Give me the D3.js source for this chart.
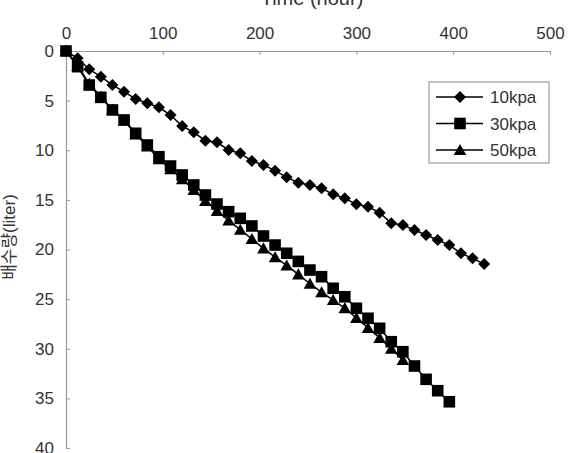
<!DOCTYPE html>
<html>
<head>
<meta charset="utf-8">
<script src="https://cdn.jsdelivr.net/npm/d3@7"></script>
<style>
  body { margin: 0; background: #fff; }
  text { font-family: "Liberation Sans", "Noto Sans CJK KR", sans-serif; fill: #333; }
</style>
</head>
<body>
<div id="chart"></div>
<script>
// series (time in hours, drained volume in liter)
var time10 = [0,12,24,36,48,60,72,84,96,108,120,132,144,156,168,180,192,204,216,228,240,252,264,276,288,300,312,324,336,348,360,372,384,396,408,420,432];
var v10 = [0,0.74,1.84,2.59,3.43,4.10,4.84,5.27,5.67,6.45,7.56,8.19,9.04,9.20,9.97,10.31,11.08,11.49,12.06,12.73,13.27,13.50,13.83,14.44,14.84,15.45,15.69,16.29,17.36,17.53,18.04,18.54,19.04,19.55,20.38,20.89,21.46];

var time30 = [0,12,24,36,48,60,72,84,96,108,120,132,144,156,168,180,192,204,216,228,240,252,264,276,288,300,312,324,336,348,360,372,384,396];
var v30 = [0,1.58,3.43,4.67,5.94,6.95,8.29,9.47,10.65,11.59,12.49,13.5,14.51,15.42,16.19,16.86,17.63,18.64,19.55,20.38,21.2,22.07,22.74,23.91,24.76,25.92,26.93,27.94,29.29,30.3,31.74,33.08,34.23,35.34];

var time50 = [0,12,24,36,48,60,72,84,96,108,120,132,144,156,168,180,192,204,216,228,240,252,264,276,288,300,312,324,336,348];
var v50 = [0,1.5,3.3,4.6,5.9,7.0,8.4,9.6,10.9,11.9,12.9,14.0,15.1,16.1,17.08,18.0,18.94,19.88,20.78,21.6,22.5,23.45,24.3,25.09,25.9,26.9,27.9,28.9,30.0,31.13];

var seriesNames = ["10kpa", "30kpa", "50kpa"];
var xTicks = [0, 100, 200, 300, 400, 500];
var yTicks = [0, 5, 10, 15, 20, 25, 30, 35, 40];

var width = 571, height = 453;
var margin = {top: 51, right: 21, bottom: 5, left: 66};

var svg = d3.select("#chart")
    .append("svg")
    .attr("width", width)
    .attr("height", height);

var x = d3.scaleLinear()
    .domain([0, 500])
    .range([margin.left, width - margin.right]);

var y = d3.scaleLinear()
    .domain([0, 40])
    .range([margin.top, height - margin.bottom]);

// axes: x on top, y reversed (0 at top)
var xAxis = svg.append("g")
    .attr("transform", "translate(0," + margin.top + ")")
    .call(d3.axisTop(x).tickValues(xTicks).tickSizeInner(-4).tickSizeOuter(0).tickPadding(12));

var yAxis = svg.append("g")
    .attr("transform", "translate(" + margin.left + ",0)")
    .call(d3.axisLeft(y).tickValues(yTicks).tickSizeInner(-4).tickSizeOuter(0).tickPadding(12));

[xAxis, yAxis].forEach(function(g) {
    g.select(".domain").attr("stroke", "#999").attr("stroke-width", 1.2);
    g.selectAll(".tick line").attr("stroke", "#999");
    g.selectAll(".tick text")
        .style("font-size", "17px")
        .attr("fill", "#333");
});

svg.append("text")
    .attr("x", 312)
    .attr("y", 5)
    .attr("text-anchor", "middle")
    .style("font-size", "20px")
    .text("Time (hour)");

svg.append("text")
    .attr("transform", "translate(15,237) rotate(-90)")
    .attr("text-anchor", "middle")
    .style("font-size", "17px")
    .text("배수량(liter)");

// marker shapes
function marker(type, s) {
    if (type === "diamond") return "M0," + (-s) + "L" + s + ",0L0," + s + "L" + (-s) + ",0Z";
    if (type === "square") return "M" + (-s) + "," + (-s) + "h" + (2 * s) + "v" + (2 * s) + "h" + (-2 * s) + "Z";
    return "M0," + (-s) + "L" + (s * 1.05) + "," + (s * 0.85) + "L" + (-s * 1.05) + "," + (s * 0.85) + "Z";
}

var series = [
    {name: seriesNames[0], t: time10, v: v10, shape: "diamond", size: 6},
    {name: seriesNames[1], t: time30, v: v30, shape: "square", size: 5.8},
    {name: seriesNames[2], t: time50, v: v50, shape: "triangle", size: 6}
];

var line = d3.line()
    .x(function(d) { return x(d[0]); })
    .y(function(d) { return y(d[1]); });

series.forEach(function(s) {
    var pts = s.t.map(function(t, i) { return [t, s.v[i]]; });
    svg.append("path")
        .datum(pts)
        .attr("d", line)
        .attr("fill", "none")
        .attr("stroke", "#000")
        .attr("stroke-width", 1.5);
    svg.selectAll(null)
        .data(pts)
        .enter()
        .append("path")
        .attr("d", marker(s.shape, s.size))
        .attr("transform", function(d) { return "translate(" + x(d[0]) + "," + y(d[1]) + ")"; })
        .attr("fill", "#000");
});

// legend
var legend = svg.append("g").attr("transform", "translate(429,82)");
legend.append("rect")
    .attr("width", 120)
    .attr("height", 81)
    .attr("fill", "#fff")
    .attr("stroke", "#888");

series.forEach(function(s, i) {
    var ly = 15 + i * 26.5;
    legend.append("line")
        .attr("x1", 7).attr("x2", 54)
        .attr("y1", ly).attr("y2", ly)
        .attr("stroke", "#000")
        .attr("stroke-width", 1.5);
    legend.append("path")
        .attr("d", marker(s.shape, s.size))
        .attr("transform", "translate(31," + ly + ")")
        .attr("fill", "#000");
    legend.append("text")
        .attr("x", 61)
        .attr("y", ly + 6)
        .style("font-size", "17px")
        .text(s.name);
});
</script>
</body>
</html>
